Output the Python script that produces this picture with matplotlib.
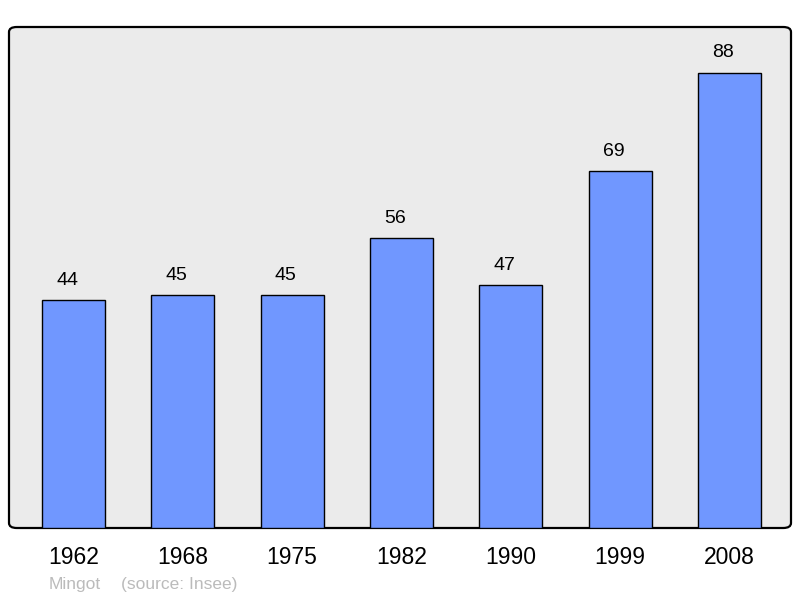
import matplotlib
matplotlib.use('Agg')
import matplotlib.pyplot as plt
from matplotlib.patches import FancyBboxPatch

# population by census year
years = ['1962', '1968', '1975', '1982', '1990', '1999', '2008']
population = [44, 45, 45, 56, 47, 69, 88]

plt.rcParams['font.family'] = ['Liberation Sans', 'DejaVu Sans']

fig = plt.figure(figsize=(8, 5.98), dpi=100)

ax = fig.add_axes([9 / 800, 70 / 598, 782 / 800, 501 / 598])
ax.set_facecolor('none')
for s in ax.spines.values():
    s.set_visible(False)

# rounded grey frame behind the bars
frame = FancyBboxPatch((0, 0), 1, 1,
                       boxstyle='round,pad=0,rounding_size=0.01',
                       transform=ax.transAxes, facecolor='#ebebeb',
                       edgecolor='black', linewidth=1.6, zorder=0,
                       clip_on=False)
ax.add_patch(frame)

x = range(len(years))
bars = ax.bar(x, population, width=0.576, color='#7097ff',
              edgecolor='black', linewidth=1.0, zorder=2)
# value labels sit a little left of the bar centre, like the original
for xi, v in zip(x, population):
    ax.annotate(str(v), (xi, v), xytext=(-4.5, 8), textcoords='offset points',
                ha='center', va='bottom', fontsize=14, color='black')

ax.set_xlim(-0.59, 6.563)
ax.set_ylim(0, 96.8)
ax.set_yticks([])
ax.set_xticks(list(x))
ax.set_xticklabels(years, fontsize=16.5)
ax.tick_params(axis='x', length=0, pad=13)

fig.text(49 / 800, 1 - 585 / 598, 'Mingot', color='#bbbbbb', fontsize=12.5,
         va='center', ha='left')
fig.text(121 / 800, 1 - 585 / 598, '(source: Insee)', color='#bbbbbb',
         fontsize=12.5, va='center', ha='left')

fig.savefig('out.png', dpi=100)
